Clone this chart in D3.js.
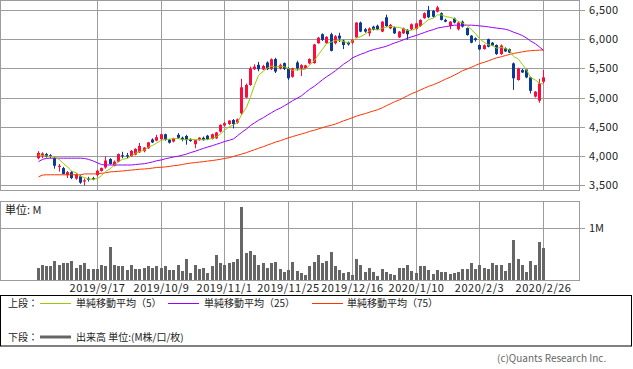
<!DOCTYPE html>
<html><head><meta charset="utf-8">
<script src="https://cdn.jsdelivr.net/npm/d3@7"></script>
<style>
body{margin:0;background:#fff}
svg{display:block}
text{font-family:"Noto Sans CJK JP","Noto Sans",sans-serif}
</style>
</head><body>
<svg id="chart" width="633" height="369"></svg>
<script>
// ---- data ----
const openP=[3960,3990,4030,4010,3960,3810,3790,3670,3720,3610,3650,3560,3610,3620,3670,3740,3800,3945,3830,3900,4010,4010,3990,4020,4060,4080,4130,4280,4260,4285,4370,4280,4245,4360,4310,4340,4290,4200,4270,4310,4345,4290,4300,4415,4520,4545,4615,4570,4730,5000,5215,5485,5560,5480,5600,5485,5660,5500,5590,5500,5355,5600,5500,5500,5585,5590,5930,6085,5930,6085,5930,6060,5975,5940,5940,6030,6285,6170,6100,6215,6230,6130,6375,6185,6200,6030,6100,6160,6170,6175,6225,6360,6500,6485,6470,6445,6330,6225,6355,6170,6300,6190,6060,6015,5900,5830,6000,5940,5900,5745,5845,5830,5585,5300,5470,5480,5345,5015,4945,5270];
const highP=[4080,4060,4050,4030,3980,3860,3810,3740,3740,3700,3670,3610,3640,3640,3760,3800,3990,3960,3920,4040,4070,4050,4100,4130,4220,4150,4240,4300,4360,4380,4380,4290,4310,4390,4330,4360,4300,4280,4320,4330,4360,4380,4410,4540,4580,4610,4630,4640,5320,5240,5530,5570,5610,5560,5620,5670,5680,5580,5600,5520,5510,5630,5570,5560,5670,5920,6040,6100,6050,6110,6070,6110,5990,5960,6000,6290,6300,6190,6200,6230,6250,6310,6420,6260,6220,6140,6200,6170,6270,6280,6340,6460,6570,6500,6570,6460,6350,6310,6370,6300,6320,6200,6070,6030,5910,5910,6010,5950,5910,5910,5860,5840,5600,5510,5490,5490,5360,5110,5320,5470];
const lowP=[3940,3960,3970,3960,3780,3730,3680,3620,3600,3590,3520,3490,3560,3580,3650,3730,3780,3850,3820,3890,3960,3960,3980,4010,4050,4060,4120,4220,4250,4270,4260,4210,4230,4290,4250,4190,4240,4130,4260,4260,4270,4280,4290,4400,4500,4530,4470,4550,4700,4990,5200,5470,5450,5470,5470,5470,5420,5480,5470,5300,5340,5460,5370,5490,5570,5580,5920,5970,5920,5790,5910,5950,5830,5890,5920,6020,6120,6110,6050,6150,6160,6120,6210,6170,6090,6020,6090,5990,6160,6160,6210,6350,6360,6370,6460,6320,6290,6170,6270,6150,6200,6060,5930,5960,5810,5820,5860,5880,5730,5730,5780,5760,5130,5290,5420,5330,5070,5000,4910,5240];
const closeP=[4050,4040,3985,3990,3830,3830,3690,3720,3620,3680,3540,3580,3590,3600,3745,3790,3920,3860,3900,4030,3995,3990,4085,4120,4170,4140,4230,4230,4320,4370,4270,4225,4300,4310,4280,4270,4255,4270,4310,4270,4285,4370,4400,4530,4560,4605,4545,4625,5175,5215,5500,5530,5485,5540,5485,5655,5445,5560,5490,5330,5500,5500,5555,5550,5660,5910,6025,5985,6040,5800,6050,6010,5900,5910,5990,6285,6130,6130,6185,6160,6170,6300,6225,6245,6100,6130,6185,6085,6255,6270,6330,6445,6375,6385,6545,6330,6300,6300,6285,6285,6215,6070,5940,5985,5825,5895,5870,5890,5745,5890,5790,5770,5330,5500,5430,5345,5115,5100,5240,5345];
const ma5=[4014,4005,3997,3990,3979,3935,3865,3812,3738,3708,3650,3628,3602,3598,3611,3661,3729,3783,3843,3900,3941,3955,4000,4044,4072,4101,4149,4178,4218,4268,4284,4283,4297,4295,4277,4277,4283,4277,4277,4275,4278,4301,4327,4373,4439,4502,4529,4573,4701,4833,5012,5209,5381,5454,5508,5539,5522,5537,5527,5496,5465,5476,5475,5487,5553,5635,5740,5826,5924,5952,5980,5977,5960,5934,5972,6019,6043,6089,6144,6178,6155,6189,6208,6220,6208,6200,6177,6149,6151,6185,6225,6277,6335,6361,6416,6416,6387,6372,6352,6300,6277,6231,6159,6099,6007,5943,5903,5893,5845,5858,5837,5817,5705,5656,5564,5475,5344,5298,5246,5229];
const ma25=[3900,3940,3955,3960,3960,3960,3960,3960,3960,3960,3960,3955,3940,3910,3880,3850,3843,3843,3843,3843,3843,3843,3843,3850,3858,3865,3880,3895,3915,3930,3950,3965,3980,3995,4012,4030,4055,4080,4105,4128,4150,4175,4198,4220,4245,4268,4290,4345,4400,4460,4520,4565,4610,4655,4700,4740,4780,4820,4860,4900,4945,4990,5030,5085,5140,5195,5250,5305,5355,5410,5460,5515,5570,5625,5680,5710,5740,5770,5800,5820,5840,5860,5880,5907,5935,5962,5990,6015,6040,6065,6090,6115,6140,6165,6190,6203,6215,6228,6240,6240,6240,6240,6240,6235,6228,6220,6210,6200,6190,6180,6170,6150,6120,6090,6060,6020,5970,5920,5865,5810];
const ma75=[3640,3670,3675,3675,3675,3675,3675,3675,3675,3675,3675,3690,3690,3690,3690,3700,3710,3725,3730,3735,3740,3750,3757,3762,3770,3775,3782,3790,3800,3805,3810,3820,3830,3840,3852,3865,3875,3885,3893,3900,3910,3920,3930,3940,3955,3970,3990,4010,4030,4055,4080,4105,4130,4158,4185,4210,4235,4260,4285,4310,4330,4355,4375,4395,4418,4440,4462,4483,4505,4525,4545,4572,4600,4628,4655,4680,4702,4725,4748,4770,4790,4825,4860,4893,4927,4960,4995,5030,5065,5098,5130,5160,5190,5220,5250,5280,5315,5350,5385,5420,5460,5490,5520,5550,5580,5605,5630,5655,5680,5700,5720,5738,5755,5770,5783,5795,5803,5808,5812,5815];
const volumeM=[0.23,0.28,0.26,0.26,0.37,0.28,0.33,0.32,0.37,0.24,0.29,0.33,0.22,0.21,0.22,0.28,0.26,0.64,0.28,0.26,0.26,0.19,0.28,0.22,0.22,0.24,0.26,0.24,0.26,0.24,0.26,0.20,0.19,0.28,0.17,0.41,0.13,0.28,0.22,0.24,0.14,0.26,0.49,0.32,0.28,0.32,0.35,0.41,1.41,0.51,0.56,0.49,0.28,0.32,0.24,0.32,0.34,0.22,0.15,0.20,0.35,0.18,0.14,0.10,0.26,0.35,0.49,0.33,0.37,0.53,0.26,0.20,0.14,0.16,0.10,0.41,0.28,0.16,0.24,0.16,0.08,0.22,0.16,0.12,0.10,0.24,0.24,0.29,0.18,0.14,0.26,0.26,0.20,0.12,0.20,0.16,0.16,0.12,0.14,0.16,0.22,0.22,0.33,0.22,0.29,0.24,0.22,0.33,0.28,0.28,0.18,0.33,0.76,0.41,0.29,0.16,0.37,0.29,0.74,0.62];
const dateTickIndex=[14,29,44,59,74,89,104,119];
const dateTickLabels=["2019/9/17","2019/10/9","2019/11/1","2019/11/25","2019/12/16","2020/1/10","2020/2/3","2020/2/26"];
const priceTicks=[3500,4000,4500,5000,5500,6000,6500];
const volTicks=[1];
const legendTop=[["単純移動平均（5）","#99cc00"],["単純移動平均（25）","#9900ff"],["単純移動平均（75）","#ff3300"]];

// ---- layout ----
const svg=d3.select("#chart");
const W=633,H=369;
const P={x0:0,x1:579,top0:0,top1:190,vol0:201,vol1:280};
const n=closeP.length;
const x=d3.scaleLinear().domain([0,n-1]).range([37.5,543]);
const y=d3.scaleLinear().domain([3500,6500]).range([185,10]);
const yv=d3.scaleLinear().domain([0,1]).range([P.vol1,228]);
const px=i=>Math.round(x(i));
const grid="#9c9c9c";
const RED="#ff0a3c",BLUE="#0a3a96";

svg.append("rect").attr("width",W).attr("height",H).attr("fill","#fff");

function panel(y0,y1){
  svg.append("rect").attr("x",P.x0+0.5).attr("y",y0+0.5).attr("width",P.x1-P.x0).attr("height",y1-y0)
    .attr("fill","none").attr("stroke",grid);
  svg.append("g").selectAll("line").data(dateTickIndex).join("line")
    .attr("x1",d=>px(d)+0.5).attr("x2",d=>px(d)+0.5).attr("y1",y0+0.5).attr("y2",y1+0.5)
    .attr("stroke",grid);
}
panel(P.top0,P.top1);
panel(P.vol0,P.vol1);

// price grid + axis
const gp=svg.append("g");
priceTicks.forEach(v=>{
  const yy=Math.round(y(v))+0.5;
  gp.append("line").attr("x1",P.x0).attr("x2",P.x1).attr("y1",yy).attr("y2",yy).attr("stroke",grid);
  gp.append("line").attr("x1",P.x1).attr("x2",P.x1+6).attr("y1",yy).attr("y2",yy).attr("stroke",grid);
  gp.append("text").attr("x",589).attr("y",yy).attr("dy","0.36em").attr("font-size",11)
    .attr("letter-spacing",0.4).attr("fill","#222").text(d3.format(",")(v));
});
// volume grid + axis
volTicks.forEach(v=>{
  const yy=Math.round(yv(v))+0.5;
  gp.append("line").attr("x1",P.x0).attr("x2",P.x1).attr("y1",yy).attr("y2",yy).attr("stroke",grid);
  gp.append("line").attr("x1",P.x1).attr("x2",P.x1+6).attr("y1",yy).attr("y2",yy).attr("stroke",grid);
  gp.append("text").attr("x",589).attr("y",yy).attr("dy","0.36em").attr("font-size",11)
    .attr("fill","#222").text(v+"M");
});
svg.append("text").attr("x",5).attr("y",210).attr("dy","0.36em").attr("font-size",11).attr("fill","#222").text("単位: M");

// date labels
svg.append("g").selectAll("text").data(dateTickIndex).join("text")
  .attr("x",d=>px(d)+0.5).attr("y",288).attr("dy","0.36em").attr("text-anchor","middle")
  .attr("font-size",11).attr("letter-spacing",0.5).attr("fill","#222")
  .text((d,i)=>dateTickLabels[i]);

// volume bars
svg.append("g").selectAll("rect").data(volumeM).join("rect")
  .attr("x",(d,i)=>px(i)-1).attr("width",3)
  .attr("y",d=>Math.round(yv(d))).attr("height",d=>P.vol1-Math.round(yv(d)))
  .attr("fill","#666");

// candles
const idx=d3.range(n);
const gc=svg.append("g");
gc.selectAll("line").data(idx).join("line")
  .attr("x1",i=>px(i)+0.5).attr("x2",i=>px(i)+0.5)
  .attr("y1",i=>y(highP[i])).attr("y2",i=>y(lowP[i]))
  .attr("stroke",i=>closeP[i]>=openP[i]?RED:BLUE);
gc.selectAll("rect").data(idx).join("rect")
  .attr("x",i=>px(i)-1).attr("width",3)
  .attr("y",i=>y(Math.max(openP[i],closeP[i])))
  .attr("height",i=>Math.max(1,Math.abs(y(openP[i])-y(closeP[i]))))
  .attr("fill",i=>closeP[i]>=openP[i]?RED:BLUE);

// moving averages
const line=arr=>d3.line().x((d,i)=>px(i)+0.5).y(d=>y(d))(arr);
[[ma75,"#ff3300"],[ma25,"#9900ff"],[ma5,"#99cc00"]].forEach(([a,c])=>{
  svg.append("path").attr("d",line(a)).attr("fill","none").attr("stroke",c).attr("stroke-width",1);
});

// legend
svg.append("rect").attr("x",0.5).attr("y",295.5).attr("width",631).attr("height",50.5)
  .attr("fill","#fff").attr("stroke","#000");
svg.append("text").attr("x",8).attr("y",303).attr("dy","0.36em").attr("font-size",10).attr("fill","#222").text("上段：");
const legX=[[40,76],[168,204],[312,347]];
legendTop.forEach(([t,c],k)=>{
  svg.append("line").attr("x1",legX[k][0]).attr("x2",legX[k][0]+31).attr("y1",303.5).attr("y2",303.5).attr("stroke",c);
  svg.append("text").attr("x",legX[k][1]).attr("y",303).attr("dy","0.36em").attr("font-size",10).attr("fill","#222").text(t);
});
svg.append("text").attr("x",8).attr("y",337).attr("dy","0.36em").attr("font-size",10).attr("fill","#222").text("下段：");
svg.append("line").attr("x1",40).attr("x2",71).attr("y1",337).attr("y2",337).attr("stroke","#666").attr("stroke-width",3);
svg.append("text").attr("x",76).attr("y",337).attr("dy","0.36em").attr("font-size",10).attr("fill","#222").text("出来高 単位:(M株/口/枚)");
svg.append("text").attr("x",497).attr("y",358).attr("dy","0.36em").attr("font-size",10).attr("fill","#666").text("(c)Quants Research Inc.");
</script>
</body></html>
